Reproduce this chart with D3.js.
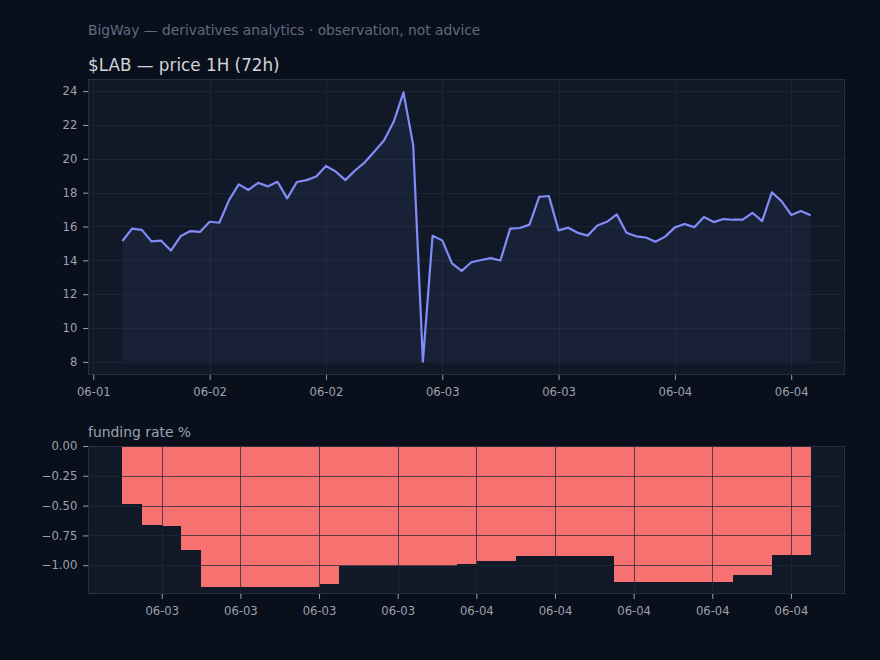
<!DOCTYPE html>
<html><head><meta charset="utf-8">
<script src="https://cdn.jsdelivr.net/npm/d3@7"></script>
<style>
html,body{margin:0;padding:0;background:#0a0f1c;}
svg{display:block;font-family:"DejaVu Sans",sans-serif;}
</style></head>
<body><svg id="c" width="880" height="660"></svg>
<script>
// ---- data ----
const priceStart = "2025-06-01T15:00:00Z";
const priceValues = [15.14,15.87,15.80,15.12,15.16,14.58,15.42,15.73,15.68,16.28,
  16.22,17.56,18.49,18.16,18.58,18.37,18.64,17.66,18.63,18.74,
  18.95,19.58,19.25,18.74,19.31,19.79,20.43,21.10,22.20,23.92,
  20.81,8.02,15.45,15.18,13.82,13.38,13.89,14.02,14.13,13.99,
  15.87,15.91,16.11,17.75,17.80,15.77,15.93,15.62,15.46,16.06,
  16.28,16.72,15.63,15.42,15.35,15.10,15.40,15.95,16.15,15.96,
  16.56,16.26,16.44,16.40,16.40,16.81,16.32,18.02,17.50,16.68,
  16.91,16.66];
const priceYTicks = [8,10,12,14,16,18,20,22,24];
const fundingStart = "2025-06-03T06:00:00Z";
const fundingValues = [-0.487,-0.664,-0.672,-0.874,-1.182,-1.182,-1.182,-1.182,-1.182,-1.182,
  -1.160,-1.003,-1.003,-1.003,-1.003,-1.003,-1.003,-0.993,-0.966,-0.966,
  -0.924,-0.924,-0.924,-0.924,-0.924,-1.143,-1.143,-1.143,-1.143,-1.143,
  -1.143,-1.084,-1.084,-0.916,-0.916];
const fundingYTicks = [0,-0.25,-0.5,-0.75,-1.0];
const subtitleText = "BigWay — derivatives analytics · observation, not advice";
const titleText = "$LAB — price 1H (72h)";
const fundingTitle = "funding rate %";

// ---- style ----
const C = {page:"#0a0f1c", axbg:"#111827", spine:"#263042", grid:"#1f2937", tick:"#9ca3af",
  line:"#818cf8", bar:"#f87171", title:"#d1d5db", sub:"#5f6b80"};

const svg = d3.select("#c");
svg.append("rect").attr("width",880).attr("height",660).attr("fill",C.page);

const P = {l:88, r:845, t:79, b:375};
const F = {l:88, r:845, t:446, b:594};
const H = 3600e3;

// price series
const t0 = new Date(priceStart);
const priceData = priceValues.map((v,i)=>({t:new Date(+t0 + i*H), v}));
const pxMin = priceData[0].t, pxMax = priceData[priceData.length-1].t;
const pxPad = (pxMax-pxMin)*0.05;
const x1 = d3.scaleUtc().domain([new Date(+pxMin-pxPad), new Date(+pxMax+pxPad)]).range([P.l,P.r]);
const [pmin,pmax] = d3.extent(priceValues);
const ppad = (pmax-pmin)*0.05;
const y1 = d3.scaleLinear().domain([pmin-ppad, pmax+ppad]).range([P.b,P.t]);

const g1 = svg.append("g");
g1.append("rect").attr("x",P.l).attr("y",P.t).attr("width",P.r-P.l).attr("height",P.b-P.t).attr("fill",C.axbg);
svg.append("clipPath").attr("id","cp1").append("rect").attr("x",P.l).attr("y",P.t).attr("width",P.r-P.l).attr("height",P.b-P.t);
const xt1 = x1.ticks(d3.utcHour.every(12));
// grid
const gg1 = g1.append("g").attr("clip-path","url(#cp1)");
gg1.selectAll("line.v").data(xt1).join("line").attr("x1",d=>Math.round(x1(d))+0.5).attr("x2",d=>Math.round(x1(d))+0.5)
  .attr("y1",P.t).attr("y2",P.b).attr("stroke",C.grid).attr("stroke-opacity",0.7);
gg1.selectAll("line.h").data(priceYTicks).join("line").attr("y1",d=>Math.round(y1(d))+0.5).attr("y2",d=>Math.round(y1(d))+0.5)
  .attr("x1",P.l).attr("x2",P.r).attr("stroke",C.grid).attr("stroke-opacity",0.7);
// fill
const area = d3.area().x(d=>x1(d.t)).y0(y1(pmin)).y1(d=>y1(d.v));
g1.append("path").datum(priceData).attr("d",area).attr("fill",C.line).attr("fill-opacity",0.08).attr("clip-path","url(#cp1)");
const line = d3.line().x(d=>x1(d.t)).y(d=>y1(d.v));
g1.append("path").datum(priceData).attr("d",line).attr("fill","none").attr("stroke",C.line)
  .attr("stroke-width",2.2).attr("stroke-linejoin","round").attr("clip-path","url(#cp1)");
g1.append("rect").attr("x",P.l+0.5).attr("y",P.t+0.5).attr("width",P.r-P.l-1).attr("height",P.b-P.t-1)
  .attr("fill","none").attr("stroke",C.spine);

function styleAxis(g){
  g.select(".domain").remove();
  g.selectAll(".tick line").attr("stroke",C.tick);
  g.selectAll(".tick text").attr("fill",C.tick).attr("font-size","11.6px").attr("font-family","DejaVu Sans");
}
const fmtDate = d3.utcFormat("%m-%d");
svg.append("g").attr("transform",`translate(0,${P.b})`)
  .call(d3.axisBottom(x1).tickValues(xt1).tickFormat(fmtDate).tickSize(4.9).tickPadding(7.5)).call(styleAxis);
svg.append("g").attr("transform",`translate(${P.l},0)`)
  .call(d3.axisLeft(y1).tickValues(priceYTicks).tickFormat(d3.format("d")).tickSize(4.9).tickPadding(5.8)).call(styleAxis);

// funding
const ft0 = new Date(fundingStart);
const fundData = fundingValues.map((v,i)=>({t:new Date(+ft0 + i*H), v}));
const fMin = fundData[0].t, fMax = new Date(+fundData[fundData.length-1].t + H);
const fPad = (fMax-fMin)*0.05;
const x2 = d3.scaleUtc().domain([new Date(+fMin-fPad), new Date(+fMax+fPad)]).range([F.l,F.r]);
const fmin = d3.min(fundingValues);
const y2 = d3.scaleLinear().domain([fmin*1.05, 0]).range([F.b,F.t]);

const g2 = svg.append("g");
g2.append("rect").attr("x",F.l).attr("y",F.t).attr("width",F.r-F.l).attr("height",F.b-F.t).attr("fill",C.axbg);
svg.append("clipPath").attr("id","cp2").append("rect").attr("x",F.l).attr("y",F.t).attr("width",F.r-F.l).attr("height",F.b-F.t);
g2.append("g").attr("clip-path","url(#cp2)").attr("shape-rendering","crispEdges").selectAll("rect").data(fundData).join("rect")
  .attr("x",d=>x2(d.t)).attr("width",d=>x2(new Date(+d.t+H))-x2(d.t)+0.6)
  .attr("y",y2(0)).attr("height",d=>y2(d.v)-y2(0)).attr("fill",C.bar);
const xt2 = x2.ticks(d3.utcHour.every(4));
const gg2 = g2.append("g").attr("clip-path","url(#cp2)");
gg2.selectAll("line.v").data(xt2).join("line").attr("x1",d=>Math.round(x2(d))+0.5).attr("x2",d=>Math.round(x2(d))+0.5)
  .attr("y1",F.t).attr("y2",F.b).attr("stroke",C.grid).attr("stroke-opacity",0.72);
gg2.selectAll("line.h").data(fundingYTicks).join("line").attr("y1",d=>Math.round(y2(d))+0.5).attr("y2",d=>Math.round(y2(d))+0.5)
  .attr("x1",F.l).attr("x2",F.r).attr("stroke",C.grid).attr("stroke-opacity",0.72);
g2.append("rect").attr("x",F.l+0.5).attr("y",F.t+0.5).attr("width",F.r-F.l-1).attr("height",F.b-F.t-1)
  .attr("fill","none").attr("stroke",C.spine);
svg.append("g").attr("transform",`translate(0,${F.b})`)
  .call(d3.axisBottom(x2).tickValues(xt2).tickFormat(fmtDate).tickSize(4.9).tickPadding(7.5)).call(styleAxis);
svg.append("g").attr("transform",`translate(${F.l},0)`)
  .call(d3.axisLeft(y2).tickValues(fundingYTicks).tickFormat(d3.format(".2f")).tickSize(4.9).tickPadding(5.8)).call(styleAxis);

// texts
svg.append("text").attr("x",88).attr("y",34.5).attr("fill",C.sub).attr("font-size","13.8px").text(subtitleText);
svg.append("text").attr("x",88).attr("y",70.5).attr("fill",C.title).attr("font-size","16.8px").text(titleText);
svg.append("text").attr("x",88).attr("y",437).attr("fill",C.tick).attr("font-size","13.9px").text(fundingTitle);
</script></body></html>
